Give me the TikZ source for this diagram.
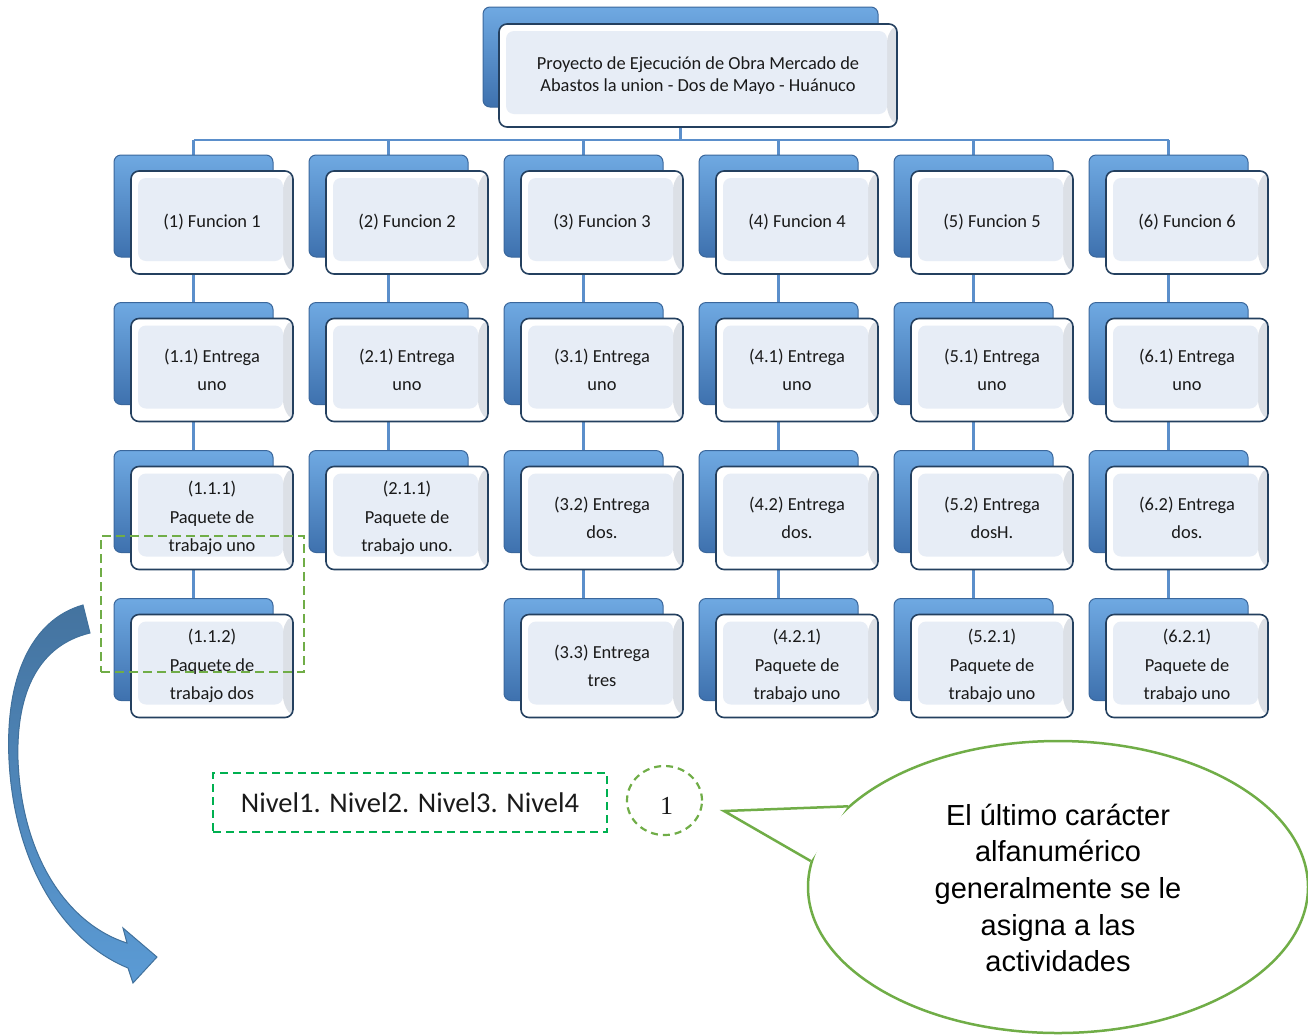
\documentclass[tikz,border=0pt]{standalone}
\usepackage{fontspec}
\setmainfont{Carlito}
\newfontfamily\arialf{Liberation Sans}
\newfontfamily\seriff{Liberation Serif}
\usetikzlibrary{shapes.geometric,backgrounds,calc}
\definecolor{connc}{HTML}{5B8FCB}
\definecolor{backtop}{HTML}{6FA9E2}
\definecolor{backbot}{HTML}{3E71AE}
\definecolor{backdraw}{HTML}{3A679C}
\definecolor{frontdraw}{HTML}{24405F}
\definecolor{face}{HTML}{E7EDF6}
\definecolor{bevr}{HTML}{DCE0E6}
\definecolor{txt}{HTML}{1A1A1A}
\definecolor{grn1}{HTML}{70AD47}
\definecolor{grn2}{HTML}{00B050}
\definecolor{arrtop}{HTML}{44739F}
\definecolor{arrbot}{HTML}{5B9BD5}
\definecolor{arrd}{HTML}{41719C}
\tikzset{
 conn/.style={draw=connc, line width=2.8pt},
 backbox/.style={rounded corners=7pt, minimum width=159pt, minimum height=102pt,
   top color=backtop, bottom color=backbot, draw=backdraw, line width=1pt, inner sep=0pt},
 frontbox/.style={rounded corners=8pt, minimum width=162pt, minimum height=103pt,
   draw=frontdraw, line width=1.6pt, align=center, text=txt, inner sep=0pt,
   font=\fontsize{18.4}{28.5}\selectfont,
   path picture={
     \fill[white] (path picture bounding box.north west) rectangle (path picture bounding box.south east);
     \fill[bevr] (path picture bounding box.north east) -- ($(path picture bounding box.north east)+(-10,10)$)
        -- ($(path picture bounding box.south east)+(-10,-13)$) -- (path picture bounding box.south east) -- cycle;
     \fill[face] ($(path picture bounding box.north west)+(7,7)$) rectangle ($(path picture bounding box.south east)+(-10,-13)$);
   }},
}
\newcommand\wbsbox[4]{%
  \node[backbox] (#1b) at ({#2-18.5},{#3-16.5}) {};
  \node[frontbox] (#1) at (#2,#3) {#4};}
\begin{document}
\begin{tikzpicture}[x=1pt,y=-1pt]
\useasboundingbox (0,0) rectangle (1308,1034);
% top box
\node[backbox, minimum width=395pt, minimum height=100pt] (topb) at (680.5,57) {};
\node[frontbox, minimum width=398pt, minimum height=103pt, font=\fontsize{18.4}{21.5}\selectfont] (top) at (698,75.5)
  {Proyecto de Ejecución de Obra Mercado de\\Abastos la union - Dos de Mayo - Huánuco};
% row 1
\wbsbox{f1}{212}{222.5}{(1) Funcion 1}
\wbsbox{f2}{407}{222.5}{(2) Funcion 2}
\wbsbox{f3}{602}{222.5}{(3) Funcion 3}
\wbsbox{f4}{797}{222.5}{(4) Funcion 4}
\wbsbox{f5}{992}{222.5}{(5) Funcion 5}
\wbsbox{f6}{1187}{222.5}{(6) Funcion 6}
% row 2
\wbsbox{e11}{212}{370}{(1.1) Entrega\\uno}
\wbsbox{e21}{407}{370}{(2.1) Entrega\\uno}
\wbsbox{e31}{602}{370}{(3.1) Entrega\\uno}
\wbsbox{e41}{797}{370}{(4.1) Entrega\\uno}
\wbsbox{e51}{992}{370}{(5.1) Entrega\\uno}
\wbsbox{e61}{1187}{370}{(6.1) Entrega\\uno}
% row 3
\wbsbox{p111}{212}{518}{(1.1.1)\\Paquete de\\trabajo uno}
\wbsbox{p211}{407}{518}{(2.1.1)\\Paquete de\\trabajo uno.}
\wbsbox{e32}{602}{518}{(3.2) Entrega\\dos.}
\wbsbox{e42}{797}{518}{(4.2) Entrega\\dos.}
\wbsbox{e52}{992}{518}{(5.2) Entrega\\dosH.}
\wbsbox{e62}{1187}{518}{(6.2) Entrega\\dos.}
% row 4
\wbsbox{p112}{212}{666}{(1.1.2)\\Paquete de\\trabajo dos}
\wbsbox{e33}{602}{666}{(3.3) Entrega\\tres}
\wbsbox{p421}{797}{666}{(4.2.1)\\Paquete de\\trabajo uno}
\wbsbox{p521}{992}{666}{(5.2.1)\\Paquete de\\trabajo uno}
\wbsbox{p621}{1187}{666}{(6.2.1)\\Paquete de\\trabajo uno}
% connectors
\begin{pgfonlayer}{background}
\coordinate (bus) at (0,140);
\draw[conn] (topb.center) -- (topb.center |- bus);
\draw[conn] (f1b.center |- bus) -- (f6b.center |- bus);
\foreach \c in {f1b,f2b,f3b,f4b,f5b,f6b}{\draw[conn] (\c.center |- bus) -- (\c.center);}
\draw[conn] (f1b.center) -- (e11b.center) -- (p111b.center) -- (p112b.center);
\draw[conn] (f2b.center) -- (e21b.center) -- (p211b.center);
\draw[conn] (f3b.center) -- (e31b.center) -- (e32b.center) -- (e33b.center);
\draw[conn] (f4b.center) -- (e41b.center) -- (e42b.center) -- (p421b.center);
\draw[conn] (f5b.center) -- (e51b.center) -- (e52b.center) -- (p521b.center);
\draw[conn] (f6b.center) -- (e61b.center) -- (e62b.center) -- (p621b.center);
\end{pgfonlayer}
% green dashed group
\node[draw=grn1, dash pattern=on 9pt off 5pt, line width=2pt, minimum width=203pt, minimum height=136pt, inner sep=0pt] (grp) at (202.5,604) {};
% curved arrow
\draw[draw=arrd, line width=1pt, top color=arrtop, bottom color=arrbot]
  (83,605) .. controls (30,620) and (5,680) .. (9,760)
  .. controls (14,860) and (60,940) .. (128,968)
  -- (133,983) -- (157,957) -- (123,928) -- (127,943)
  .. controls (70,925) and (22,860) .. (18,760)
  .. controls (16,690) and (40,645) .. (90,633) -- cycle;
% levels
\node[draw=grn2, dash pattern=on 8pt off 5pt, line width=2pt, minimum width=394pt, minimum height=59pt, inner sep=0pt,
  font=\fontsize{28.5}{30}\selectfont, text=txt] (niv) at (410,802.5) {Nivel1. Nivel2. Nivel3. Nivel4};
\node[ellipse, draw=grn1, dash pattern=on 7pt off 5pt, line width=2.2pt, minimum width=75pt, minimum height=69pt, inner sep=0pt] (one) at (664.5,800.5) {};
\node[font=\seriff\fontsize{26}{28}\selectfont, text=txt, inner sep=0pt] (onetxt) at (666.5,806) {1};
% callout
\node[ellipse, draw=grn1, line width=2.5pt, fill=white, minimum width=500pt, minimum height=292pt, inner sep=0pt] (call) at (1058,887) {};
\coordinate (tipc) at (724,811);
\fill[white] (call.159.4) -- (tipc) -- (call.174.2) -- cycle;
\draw[grn1, line width=2.5pt, line join=miter] (call.159.4) -- (tipc) -- (call.174.2);
\node[font=\arialf\fontsize{29}{36.7}\selectfont, align=center, text=black] (calltxt) at (1058,888)
  {El último carácter\\alfanumérico\\generalmente se le\\asigna a las\\actividades};
\end{tikzpicture}
\end{document}
